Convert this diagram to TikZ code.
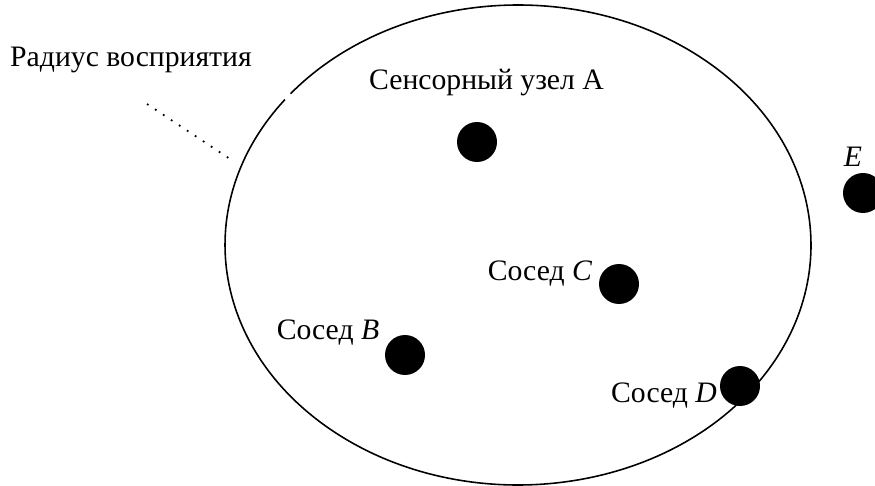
\documentclass[tikz,border=0pt]{standalone}
\usepackage{fontspec}
\setmainfont{Liberation Serif}
\usetikzlibrary{positioning}

\begin{document}
\begin{tikzpicture}[x=0.02cm, y=-0.02cm, font=\fontsize{16.9}{20}\selectfont,
  dot/.style={circle, fill=black, minimum size=0.8cm, inner sep=0pt},
  lbl/.style={inner sep=0pt, anchor=base}]
  \useasboundingbox (0,0) rectangle (875,486);
  \clip (0,0) rectangle (875,486);
  % sensing range, with the small break near the top left
  \draw[line width=0.9pt] (518,245) ++(219.1:293 and 240)
    arc[start angle=219.1, end angle=577.3, x radius=293, y radius=240];
  \coordinate (r1) at (147,104);
  \coordinate (r2) at (230,159);
  \draw[line width=1pt, dash pattern=on 1pt off 4.45pt] (r1) -- (r2);
  \node[lbl] (range) at (131,67) {Радиус восприятия};
  % nodes
  \node[dot] (a) at (477,142) {};
  \node[dot] (b) at (405,355) {};
  \node[dot] (c) at (619,284) {};
  \node[dot] (d) at (740,386) {};
  \node[dot] (e) at (863,193) {};
  \node[lbl] (la) at (486.5,90) {Сенсорный узел А};
  \node[lbl] (lb) at (328,339) {Сосед \textit{B}};
  \node[lbl] (lc) at (540,280) {Сосед \textit{C}};
  \node[lbl] (ld) at (664,402) {Сосед \textit{D}};
  \node[lbl] (le) at (853,167) {\textit{E}};
\end{tikzpicture}
\end{document}
